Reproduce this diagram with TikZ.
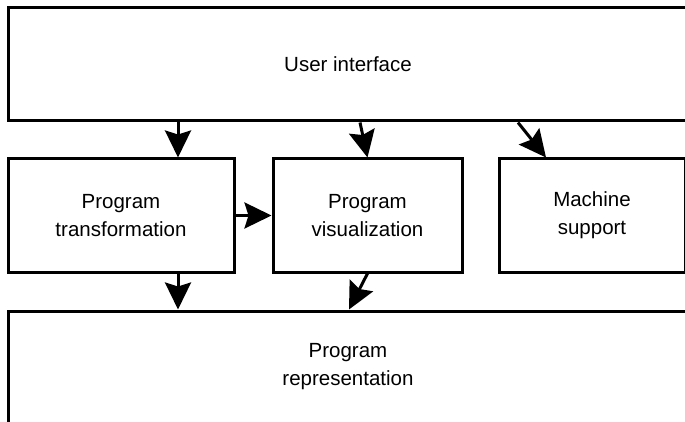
\documentclass[tikz,border=0pt]{standalone}
\usepackage{fontspec}
\setmainfont{Liberation Sans}
\usetikzlibrary{arrows.meta}

\begin{document}
\begin{tikzpicture}[x=1pt, y=-1pt,
        box/.style={draw, line width=3pt, rectangle, align=center,
            font=\fontsize{20.5}{28}\selectfont, inner sep=0pt},
        arr/.style={line width=3pt, -{Stealth[length=27pt, width=26pt, inset=4pt]}}]
        \clip (0, 0) rectangle (685, 422);

        % Layers
        \node[box, minimum width=680pt, minimum height=113pt] (ui) at (348, 64.5){User interface};

        \node[box, minimum width=226pt, minimum height=113pt] (trans) at (121, 215.5){Program\\transformation};
        \node[box, minimum width=189pt, minimum height=113pt] (vis) at (367.5, 215.5){Program\\visualization};
        \node[box, minimum width=186pt, minimum height=113pt] (mach) at (592, 215.5){Machine\\support};

        \node[box, minimum width=680pt, minimum height=112pt] (repr) at (348, 367){Program\\representation};

        % Connectors
        \draw[arr] ([xshift=57pt]trans.north |- ui.south) -- ([xshift=57pt]trans.north);
        \draw[arr] ([xshift=-7.5pt]vis.north |- ui.south) -- (vis.north);
        \draw[arr] ([xshift=-74pt]mach.north |- ui.south) -- ([xshift=-46pt]mach.north);
        \draw[arr] (trans.east) -- (vis.west);
        \draw[arr] ([xshift=57pt]trans.south) -- ([xshift=57pt]trans.south |- repr.north);
        \draw[arr] (vis.south) -- ([xshift=-18.5pt]vis.south |- repr.north);
    \end{tikzpicture}
\end{document}
